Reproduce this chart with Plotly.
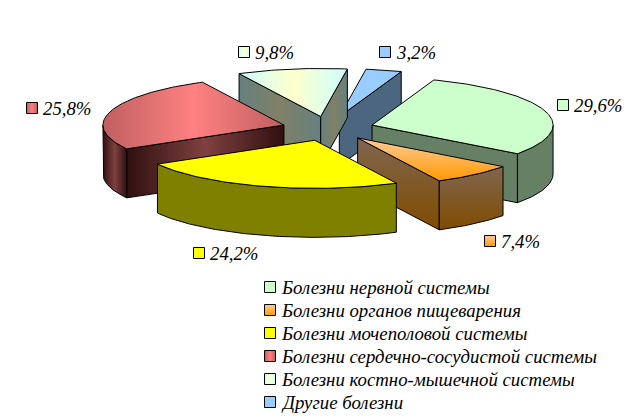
import math
import plotly.graph_objects as go

categories = ["Болезни нервной системы", "Болезни органов пищеварения", "Болезни мочеполовой системы",
              "Болезни сердечно-сосудистой системы", "Болезни костно-мышечной системы", "Другие болезни"]
values = [29.6, 7.4, 24.2, 25.8, 9.8, 3.2]

# pie projection (pixel-like axis units)
CX, CY, RADIUS, TILT, DEPTH, EXPLODE, START = 328, 128.6, 181, 0.2655, 49, 46, 20.0
FONT = dict(family="Liberation Serif", size=18.8, color="black")

def flat(c):
    return dict(type="horizontal", colorscale=[[0, c], [1, c]])
def h3(a, b):
    return dict(type="horizontal", colorscale=[[0, a], [0.5, b], [1, a]])
def v2(a, b):
    # the y axis runs downward, so the scale is listed bottom colour first
    return dict(type="vertical", colorscale=[[0, b], [1, a]])

styles = [
    dict(top=flat("#CCFFCC"), wall=flat("#668066"), outer=flat("#668066"), swatch=flat("#CCFFCC")),
    dict(top=v2("#FFCC99", "#FF9900"), wall=v2("#806650", "#804C00"), outer=v2("#806650", "#804C00"), swatch=v2("#FFCC99", "#FF9900")),
    dict(top=flat("#FFFF00"), wall=flat("#808000"), outer=flat("#808000"), swatch=flat("#FFFF00")),
    dict(top=h3("#C06060", "#FF8080"), wall=h3("#301010", "#804040"), outer=h3("#301010", "#804040"), swatch=h3("#C06060", "#FF8080")),
    dict(top=h3("#CCFFFF", "#FFFFCC"), wall=h3("#668080", "#808066"), outer=h3("#668080", "#808066"), swatch=h3("#CCFFFF", "#FFFFCC")),
    dict(top=flat("#99CCFF"), wall=flat("#4C6680"), outer=flat("#4C6680"), swatch=flat("#99CCFF")),
]
label_swatches = [(563, 105), (490, 241), (199, 253), (32, 108), (244, 52), (385, 52)]
legend_y = [287, 310, 333, 356, 379, 402]
draw_order = [5, 4, 3, 0, 1, 2]

fig = go.Figure()

def poly(xs, ys, grad):
    fig.add_trace(go.Scatter(x=xs + xs[:1], y=ys + ys[:1], mode="lines", fill="toself",
                             fillgradient=grad, line=dict(color="black", width=1),
                             hoverinfo="skip", showlegend=False))

def rim(ax, ay, deg):
    t = math.radians(deg)
    return ax + RADIUS * math.sin(t), ay - TILT * RADIUS * math.cos(t)

spans = []
a = START
for v in values:
    b = a + v * 3.6
    spans.append((a, b))
    a = b

for i in draw_order:
    a, b = spans[i]
    mid = math.radians((a + b) / 2)
    ax = CX + EXPLODE * math.sin(mid)
    ay = CY - TILT * EXPLODE * math.cos(mid)
    st = styles[i]
    # radial walls facing the viewer
    if math.sin(math.radians(a)) < 0:
        x1, y1 = rim(ax, ay, a)
        poly([ax, x1, x1, ax], [ay, y1, y1 + DEPTH, ay + DEPTH], st["wall"])
    if math.sin(math.radians(b)) > 0:
        x1, y1 = rim(ax, ay, b)
        poly([ax, x1, x1, ax], [ay, y1, y1 + DEPTH, ay + DEPTH], st["wall"])
    # outer wall: visible between 90 and 270 degrees
    lo, hi = max(a, 90), min(b, 270)
    if lo < hi:
        n = max(2, int(hi - lo) + 1)
        pts = [rim(ax, ay, lo + (hi - lo) * k / (n - 1)) for k in range(n)]
        xs = [p[0] for p in pts]
        ys = [p[1] for p in pts]
        poly(xs + xs[::-1], ys + [y + DEPTH for y in ys[::-1]], st["outer"])
    # top face
    n = max(2, int(b - a) + 1)
    pts = [rim(ax, ay, a + (b - a) * k / (n - 1)) for k in range(n)]
    poly([ax] + [p[0] for p in pts], [ay] + [p[1] for p in pts], st["top"])

def swatch(cx, cy, grad):
    s = 5.5
    poly([cx - s, cx + s, cx + s, cx - s], [cy - s, cy - s, cy + s, cy + s], grad)

annotations = []
for i, v in enumerate(values):
    sx, sy = label_swatches[i]
    swatch(sx, sy, styles[i]["swatch"])
    annotations.append(dict(x=sx + 9, y=sy, text=f"<i>{v:.1f}%</i>".replace(".", ","), showarrow=False,
                            xanchor="left", yanchor="middle", font=FONT))
    swatch(270, legend_y[i], styles[i]["swatch"])
    annotations.append(dict(x=279, y=legend_y[i], text=f"<i>{categories[i]}</i>", showarrow=False,
                            xanchor="left", yanchor="middle", font=FONT))

fig.update_layout(width=641, height=418, margin=dict(l=0, r=0, t=0, b=0), autosize=False,
                  paper_bgcolor="white", plot_bgcolor="white", annotations=annotations,
                  xaxis=dict(range=[0, 641], visible=False, fixedrange=True),
                  yaxis=dict(range=[418, 0], visible=False, fixedrange=True))
fig.write_html("out.html", config=dict(displayModeBar=False),
               post_script="document.body.style.margin='0';document.body.style.overflow='hidden';")
